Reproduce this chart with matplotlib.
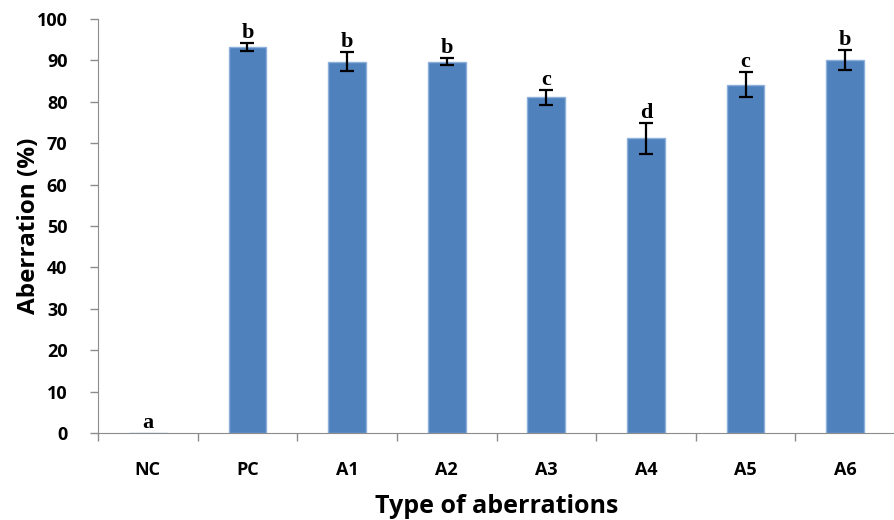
import numpy as np
import matplotlib.pyplot as plt

grupos = ['NC', 'PC', 'A1', 'A2', 'A3', 'A4', 'A5', 'A6']
aberracion = [0, 93.2, 89.7, 89.7, 81.1, 71.2, 84.1, 90.1]
error = [0, 1.0, 2.3, 0.9, 1.8, 3.7, 3.0, 2.5]
letras = ['a', 'b', 'b', 'b', 'c', 'd', 'c', 'b']

fig = plt.figure(figsize=(8.95, 5.2), dpi=100)
ax = fig.add_axes([0.1095, 0.1673, 0.8905, 0.7962])

x = np.arange(len(grupos))
ax.bar(x, aberracion, width=0.38, color='#4F81BD', edgecolor='#8DB0DA', linewidth=1.0, zorder=2)
ax.errorbar(x[1:], aberracion[1:], yerr=error[1:], fmt='none', ecolor='black',
            elinewidth=1.6, capsize=5, capthick=1.6, zorder=3)

# letras de significancia encima de cada barra
for i in range(len(grupos)):
    ax.annotate(letras[i], (x[i], aberracion[i] + error[i]), xytext=(0, 0),
                textcoords='offset points', ha='center', va='bottom',
                fontsize=16, fontweight='bold', family='Liberation Serif')

ax.set_xlim(-0.5, 7.47)
ax.set_ylim(0, 100)
ax.set_yticks(np.arange(0, 101, 10))
ax.set_xticks(x)
ax.set_xticklabels(grupos)
ax.set_xticks(np.arange(-0.5, 8, 1), minor=True)
ax.tick_params(axis='x', which='major', length=0, pad=20)
ax.tick_params(axis='x', which='minor', length=6, color='#8C8C8C', width=1)
ax.tick_params(axis='y', length=6, color='#8C8C8C', width=1, pad=16)

for lab in ax.get_xticklabels() + ax.get_yticklabels():
    lab.set_fontweight('bold')
    lab.set_fontsize(13)
    lab.set_family('Open Sans')

for s in ['top', 'right']:
    ax.spines[s].set_visible(False)
ax.spines['left'].set_color('#8C8C8C')
ax.spines['bottom'].set_color('#8C8C8C')

ax.set_ylabel('Aberration (%)', fontsize=17.5, fontweight='bold', family='Open Sans')
ax.yaxis.set_label_coords(-0.071, 0.5)
ax.set_xlabel('Type of aberrations', fontsize=18, fontweight='bold', family='Open Sans')
ax.xaxis.set_label_coords(0.5, -0.148)

fig.savefig('out.png', dpi=100)
